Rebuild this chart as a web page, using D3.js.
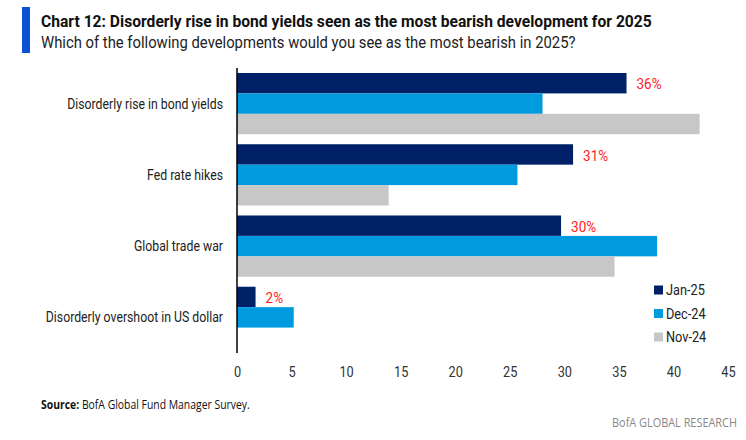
<!DOCTYPE html>
<html>
<head>
<meta charset="utf-8">
<script src="https://cdn.jsdelivr.net/npm/d3@7"></script>
<style>
  body { margin: 0; background: #fff; }
  svg text { font-family: "Roboto", "Open Sans", sans-serif; }
</style>
</head>
<body>
<svg id="chart"></svg>
<script>
var categories = ["Disorderly rise in bond yields", "Fed rate hikes", "Global trade war", "Disorderly overshoot in US dollar"];
var series = ["Jan-25", "Dec-24", "Nov-24"];
var jan25 = [35.7, 30.8, 29.7, 1.7];
var dec24 = [28.0, 25.7, 38.5, 5.2];
var nov24 = [42.4, 13.9, 34.6, 0];
var janLabels = ["36%", "31%", "30%", "2%"];
var xTicks = [0, 5, 10, 15, 20, 25, 30, 35, 40, 45];

var width = 746,
    height = 440,
    colors = ["#002168", "#009ade", "#c7c7c7"],
    values = [jan25, dec24, nov24];

var svg = d3.select("#chart")
    .attr("width", width)
    .attr("height", height);

// reference uses a condensed face, so scale text horizontally around its anchor
function condense(sel, factor, targetW) {
    sel.each(function() {
        var t = d3.select(this),
            k = targetW ? targetW / this.getComputedTextLength() : factor,
            tx = +t.attr("x") || 0,
            ty = +t.attr("y") || 0;
        t.attr("x", 0).attr("y", 0)
            .attr("transform", "translate(" + [tx, ty] + ") scale(" + k + ",1)");
    });
}

// header
svg.append("rect")
    .attr("x", 22).attr("y", 7)
    .attr("width", 8).attr("height", 46)
    .attr("fill", "#0a52d4");

svg.append("text")
    .attr("x", 41).attr("y", 27)
    .style("font-size", "17px").style("font-weight", "bold").style("fill", "#111")
    .text("Chart 12: Disorderly rise in bond yields seen as the most bearish development for 2025")
    .call(condense, null, 611);

svg.append("text")
    .attr("x", 41).attr("y", 47.5)
    .style("font-size", "17px").style("fill", "#222")
    .text("Which of the following developments would you see as the most bearish in 2025?")
    .call(condense, null, 535);

var x = d3.scaleLinear()
    .domain([0, 45])
    .range([237, 728]);

var y = d3.scaleBand()
    .domain(categories)
    .range([68, 353])
    .paddingInner(0.14)
    .paddingOuter(0.07);

var ySub = d3.scaleBand()
    .domain(series)
    .range([0, y.bandwidth()]);

var rows = [];
categories.forEach(function(c, i) {
    series.forEach(function(s, j) {
        rows.push({"cat": c, "series": s, "value": values[j][i], "color": colors[j]});
    });
});

svg.selectAll("rect.bar")
    .data(rows.filter(function(d) { return d.value > 0; }))
    .enter()
    .append("rect")
        .attr("class", "bar")
        .attr("x", x(0))
        .attr("y", function(d) { return y(d.cat) + ySub(d.series); })
        .attr("width", function(d) { return x(d.value) - x(0); })
        .attr("height", ySub.bandwidth())
        .attr("fill", function(d) { return d.color; });

// value labels for latest survey
svg.selectAll("text.val")
    .data(categories)
    .enter()
    .append("text")
        .attr("class", "val")
        .attr("x", function(d, i) { return x(jan25[i]) + 10; })
        .attr("y", function(d) { return y(d) + ySub("Jan-25") + ySub.bandwidth() / 2 + 1; })
        .attr("dy", "0.35em")
        .style("font-size", "15px")
        .style("fill", "#ff1a1a")
        .text(function(d, i) { return janLabels[i]; })
        .call(condense, 0.9);

// category labels
var catText = svg.selectAll("text.cat")
    .data(categories)
    .enter()
    .append("text")
        .attr("class", "cat")
        .attr("x", 223)
        .attr("y", function(d) { return y(d) + y.bandwidth() / 2; })
        .attr("dy", "0.35em")
        .attr("text-anchor", "end")
        .style("font-size", "14px")
        .style("fill", "#222")
        .text(function(d) { return d; });
var catFactor = 156 / catText.node().getComputedTextLength();
catText.call(condense, catFactor);

// x axis tick labels
var xAxis = d3.axisBottom(x)
    .tickValues(xTicks)
    .tickSize(0)
    .tickPadding(0);

var axisG = svg.append("g")
    .attr("transform", "translate(0,372)")
    .call(xAxis);
axisG.select(".domain").remove();
axisG.selectAll("text")
    .attr("dy", "0.35em")
    .style("font-size", "15px")
    .style("fill", "#333")
    .attr("font-family", null)
    .call(condense, 0.85);

// y axis line
svg.append("line")
    .attr("x1", x(0)).attr("x2", x(0))
    .attr("y1", 68).attr("y2", 353)
    .attr("stroke", "#000")
    .attr("stroke-width", 1.5);

// legend
var legend = svg.selectAll("g.legend")
    .data(series)
    .enter()
    .append("g")
        .attr("class", "legend")
        .attr("transform", function(d, i) { return "translate(" + [654, 290 + i * 23.5] + ")"; });

legend.append("rect")
    .attr("x", 0).attr("y", -4.5)
    .attr("width", 9).attr("height", 9)
    .attr("fill", function(d, i) { return colors[i]; });

legend.append("text")
    .attr("x", 12)
    .attr("dy", "0.35em")
    .style("font-size", "15px")
    .style("fill", "#222")
    .text(function(d) { return d; })
    .call(condense, 0.85);

// footer
var src = svg.append("text")
    .attr("x", 41).attr("y", 409)
    .style("font-family", "'Open Sans', sans-serif")
    .style("font-size", "12px")
    .style("fill", "#111");
src.append("tspan").style("font-weight", "bold").text("Source:");
src.append("tspan").text(" BofA Global Fund Manager Survey.");
src.call(condense, null, 209);

svg.append("text")
    .attr("x", 737).attr("y", 427)
    .attr("text-anchor", "end")
    .style("font-family", "'Open Sans', sans-serif")
    .style("font-size", "13.5px")
    .style("fill", "#888")
    .text("BofA GLOBAL RESEARCH")
    .call(condense, null, 125);
</script>
</body>
</html>
